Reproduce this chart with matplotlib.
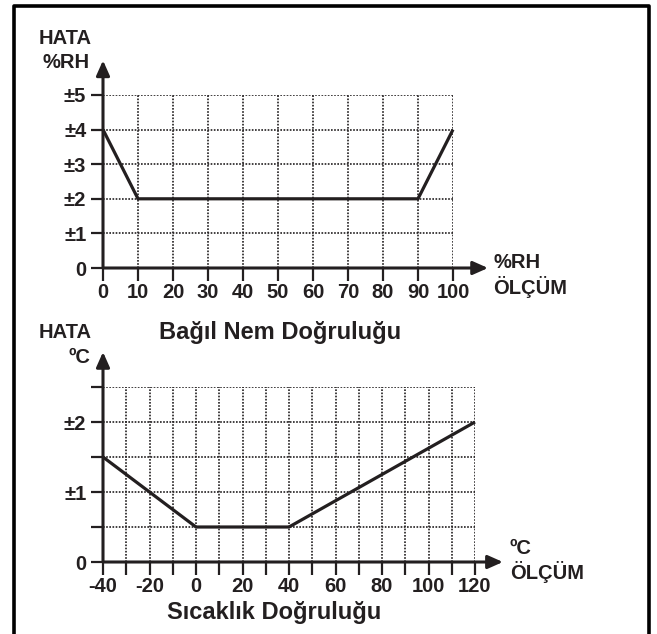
import matplotlib
matplotlib.use('Agg')
import matplotlib.pyplot as plt
from matplotlib.lines import Line2D

# Relative humidity accuracy (top chart)
rh_x = [0, 10, 90, 100]
rh_err = [4, 2, 2, 4]
rh_xticks = [0, 10, 20, 30, 40, 50, 60, 70, 80, 90, 100]
rh_yticks = [0, 1, 2, 3, 4, 5]
rh_ylabels = ['0', '±1', '±2', '±3', '±4', '±5']

# Temperature accuracy (bottom chart)
t_x = [-40, 0, 40, 120]
t_err = [1.5, 0.5, 0.5, 2]
t_xticks = [-40, -30, -20, -10, 0, 10, 20, 30, 40, 50, 60, 70, 80, 90, 100, 110, 120]
t_xlabels = ['-40', '', '-20', '', '0', '', '20', '', '40', '', '60', '', '80', '', '100', '', '120']
t_yticks = [0, 0.5, 1, 1.5, 2, 2.5]
t_ylabels = ['0', '', '±1', '', '±2', '']

plt.rcParams['font.family'] = ['Liberation Sans', 'DejaVu Sans']
plt.rcParams['font.weight'] = 'bold'
ink = '#231f20'
W, H = 657, 634
fs = 14.5

fig = plt.figure(figsize=(W / 100, H / 100), dpi=100)

def px_axes(x0, x1, y0, y1):
    # pixel box (top-left origin) -> figure fractions
    return fig.add_axes([x0 / W, 1 - y0 / H, (x1 - x0) / W, (y0 - y1) / H])

def style(ax, xlim, ylim, xticks, xlabels, yticks, ylabels, xtip, ytip):
    ax.set_xlim(*xlim)
    ax.set_ylim(*ylim)
    for s in ax.spines.values():
        s.set_visible(False)
    ax.set_xticks(xticks)
    ax.set_xticklabels(xlabels, fontsize=fs, fontweight='bold', color=ink)
    ax.set_yticks(yticks)
    ax.set_yticklabels(ylabels, fontsize=fs, fontweight='bold', color=ink)
    ax.tick_params(axis='both', length=9, width=1.6, color=ink)
    ax.tick_params(axis='x', pad=2)
    ax.tick_params(axis='y', pad=3)
    ax.grid(True, linestyle=(0, (1, 0.9)), color=ink, linewidth=1.2)
    ax.set_axisbelow(True)
    # axis arrows
    ax.annotate('', xy=(xtip, ylim[0]), xytext=(xlim[0], ylim[0]), annotation_clip=False,
                arrowprops=dict(arrowstyle='-|>,head_length=0.9,head_width=0.4', color=ink, lw=2.2,
                                shrinkA=0, shrinkB=0))
    ax.annotate('', xy=(xlim[0], ytip), xytext=(xlim[0], ylim[0]), annotation_clip=False,
                arrowprops=dict(arrowstyle='-|>,head_length=0.9,head_width=0.4', color=ink, lw=2.2,
                                shrinkA=0, shrinkB=0))

# top chart
ax1 = px_axes(103, 453, 268, 95)
style(ax1, (0, 100), (0, 5), rh_xticks, [str(v) for v in rh_xticks], rh_yticks, rh_ylabels, 110, 6.0)
ax1.plot(rh_x, rh_err, color=ink, lw=2.3, solid_capstyle='butt', zorder=5, clip_on=False)

# bottom chart
ax2 = px_axes(103, 475, 562, 387)
style(ax2, (-40, 120), (0, 2.5), t_xticks, t_xlabels, t_yticks, t_ylabels, 132, 3.0)
ax2.plot(t_x, t_err, color=ink, lw=2.3, solid_capstyle='butt', zorder=5, clip_on=False)

def ftext(x, y, s, ha='left', size=fs):
    fig.text(x / W, 1 - y / H, s, ha=ha, va='center', fontsize=size, fontweight='bold', color=ink)

ftext(92, 38, 'HATA', ha='right')
ftext(90, 62, '%RH', ha='right')
ftext(493, 263, '%RH')
ftext(493, 287, 'ÖLÇÜM')
ftext(280, 333, 'Bağıl Nem Doğruluğu', ha='center', size=17)

ftext(92, 333, 'HATA', ha='right')
ftext(90, 357, 'ºC', ha='right')
ftext(510, 548, 'ºC')
ftext(510, 572, 'ÖLÇÜM')
ftext(274, 613, 'Sıcaklık Doğruluğu', ha='center', size=17)

# outer frame (open at the bottom)
fx = [13.5 / W, 13.5 / W, 649 / W, 649 / W]
fy = [0, 1 - 5.5 / H, 1 - 5.5 / H, 0]
fig.add_artist(Line2D(fx, fy, color='black', lw=2.6, transform=fig.transFigure))

fig.savefig('out.png', dpi=100)
